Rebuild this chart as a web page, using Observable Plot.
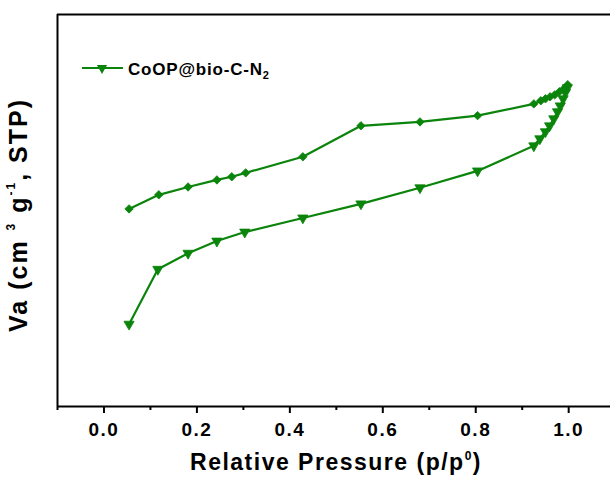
<!DOCTYPE html>
<html>
<head>
<meta charset="utf-8">
<script src="https://cdn.jsdelivr.net/npm/d3@7"></script>
<script src="https://cdn.jsdelivr.net/npm/@observablehq/plot@0.6"></script>
<style>
  html, body { margin: 0; padding: 0; background: #fff; }
  #chart svg { display: block; }
</style>
</head>
<body>
<div id="chart"></div>
<script>
// Adsorption branch (down triangles)
const adsP = [0.054, 0.116, 0.181, 0.243, 0.303, 0.428, 0.553, 0.680, 0.804, 0.925, 0.938, 0.950, 0.959, 0.968, 0.976, 0.982, 0.988, 0.993, 0.997];
const adsV = [21.0, 35.0, 39.1, 42.2, 44.5, 48.1, 51.7, 55.8, 60.1, 66.5, 68.3, 70.1, 71.6, 73.4, 75.2, 76.7, 78.5, 80.1, 81.3];
// Desorption branch (diamonds)
const desP = [0.998, 0.990, 0.980, 0.970, 0.960, 0.950, 0.940, 0.925, 0.804, 0.680, 0.553, 0.428, 0.305, 0.275, 0.243, 0.181, 0.118, 0.054];
const desV = [82.1, 81.1, 80.3, 79.5, 79.0, 78.5, 78.0, 77.2, 74.2, 72.6, 71.6, 63.7, 59.6, 58.6, 57.8, 56.0, 54.0, 50.4];
const majorTicks = [0.0, 0.2, 0.4, 0.6, 0.8, 1.0];
const minorTicks = [-0.1, 0.1, 0.3, 0.5, 0.7, 0.9];
const seriesName = "CoOP@bio-C-N";

const ads = adsP.map((p, i) => ({p, v: adsV[i]}));
const des = desP.map((p, i) => ({p, v: desV[i]}));
const green = "#0b840b";
const ff = "'Liberation Sans', Arial, sans-serif";

const chart = Plot.plot({
  width: 610,
  height: 477,
  marginLeft: 57,
  marginRight: 0,
  marginTop: 14,
  marginBottom: 71,
  style: {fontFamily: ff, color: "#000", background: "#fff"},
  x: {domain: [-0.1, 1.09]},
  y: {domain: [0, 100], axis: null},
  marks: [
    Plot.line(ads, {x: "p", y: "v", stroke: green, strokeWidth: 2.2}),
    Plot.dot(ads, {x: "p", y: "v", symbol: "triangle", rotate: 180, r: 3.8, fill: green, stroke: green, strokeWidth: 0.8}),
    Plot.line(des, {x: "p", y: "v", stroke: green, strokeWidth: 2.2}),
    Plot.dot(des, {x: "p", y: "v", symbol: "diamond2", r: 3.8, fill: green, stroke: green, strokeWidth: 0.8}),
    Plot.ruleY([0, 100], {stroke: "#000", strokeWidth: 2}),
    Plot.ruleX([-0.1], {stroke: "#000", strokeWidth: 2}),
    Plot.axisX({ticks: majorTicks, tickSize: 7, tickPadding: 9, tickFormat: d3.format(".1f"),
      fontSize: 19, fontWeight: "bold", label: null, strokeWidth: 2}),
    Plot.axisX({ticks: minorTicks, tickSize: 4, tickFormat: () => "", label: null, strokeWidth: 2})
  ]
});
document.getElementById("chart").appendChild(chart);

const svg = d3.select(chart);

// Tick label font
svg.selectAll('g[aria-label="x-axis tick label"] text')
  .style("font-size", "19px").style("font-weight", "bold").style("letter-spacing", "1.5px")
  .style("font-family", ff).attr("fill", "#000");

// X axis title
const xt = svg.append("text").attr("x", 336).attr("y", 470).attr("text-anchor", "middle")
  .attr("font-family", ff).attr("font-weight", "bold").attr("font-size", 23)
  .attr("letter-spacing", "1.5px").attr("fill", "#000");
xt.append("tspan").text("Relative Pressure (p/p");
xt.append("tspan").attr("font-size", 12).attr("dy", -10).text("0");
xt.append("tspan").attr("dy", 10).text(")");

// Y axis title
const yt = svg.append("text").attr("transform", "translate(27,215) rotate(-90)").attr("text-anchor", "middle")
  .attr("font-family", ff).attr("font-weight", "bold").attr("font-size", 25)
  .attr("letter-spacing", "2px").attr("fill", "#000");
yt.append("tspan").text("Va (cm ");
yt.append("tspan").attr("font-size", 12).attr("dy", -12).text("3");
yt.append("tspan").attr("dy", 12).text(" g");
yt.append("tspan").attr("font-size", 12).attr("dy", -12).text("-1");
yt.append("tspan").attr("dy", 12).text(", STP)");

// Legend
const lg = svg.append("g");
lg.append("line").attr("x1", 82).attr("x2", 123).attr("y1", 68).attr("y2", 68)
  .attr("stroke", green).attr("stroke-width", 2.2);
lg.append("path").attr("d", d3.symbol(d3.symbolTriangle, Math.PI * 3.8 * 3.8)())
  .attr("transform", "translate(102,68) rotate(180)").attr("fill", green);
const lt = lg.append("text").attr("x", 128).attr("y", 75).attr("text-anchor", "start").attr("font-family", ff)
  .attr("font-weight", "bold").attr("font-size", 17).attr("letter-spacing", "0.8px").attr("fill", "#000");
lt.append("tspan").text(seriesName);
lt.append("tspan").attr("font-size", 11).attr("dy", 4).text("2");
</script>
</body>
</html>
